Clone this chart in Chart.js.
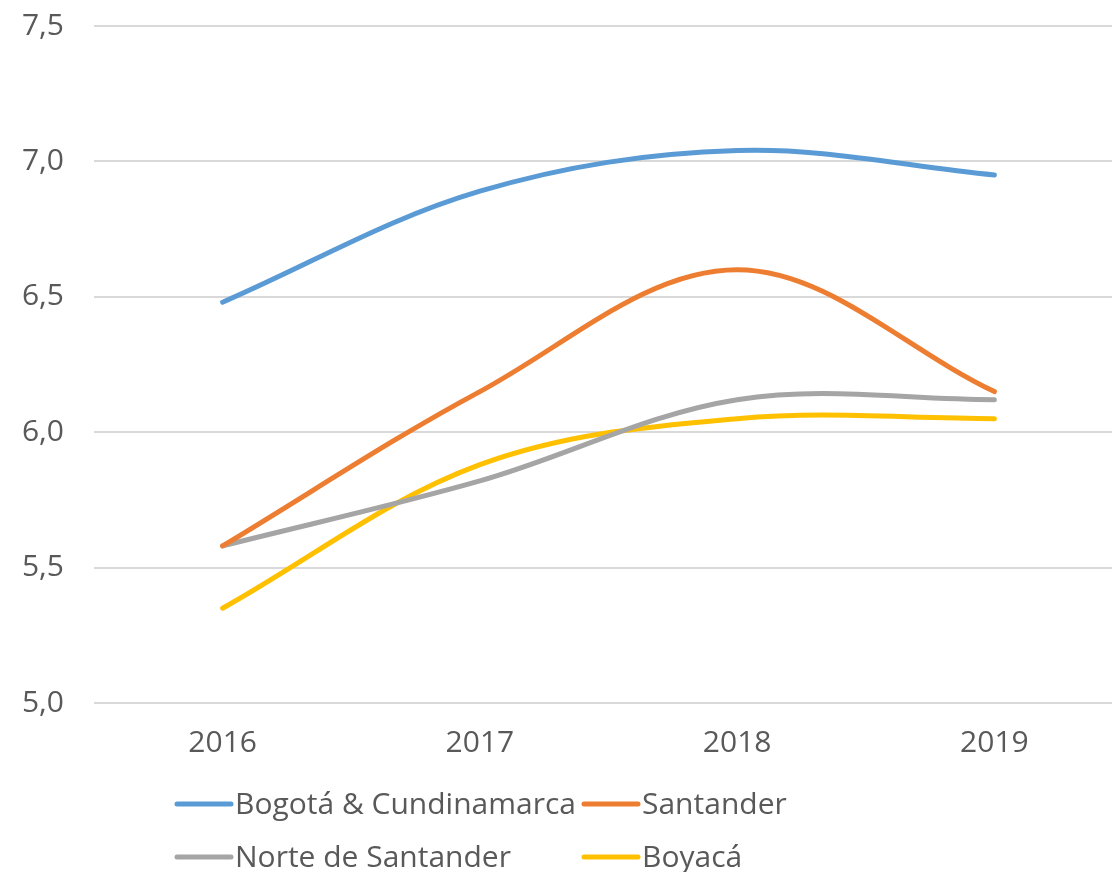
<!DOCTYPE html>
<html>
<head>
<meta charset="utf-8">
<script src="https://cdn.jsdelivr.net/npm/chart.js@4.4.1/dist/chart.umd.min.js"></script>
<style>
  html, body { margin: 0; padding: 0; background: #ffffff; overflow: hidden; }
  #wrap { position: relative; width: 1123px; height: 872px; }
</style>
</head>
<body>
<div id="wrap"><canvas id="chart" width="1123" height="872"></canvas></div>
<script>
// Years on the horizontal axis
const years = ['2016', '2017', '2018', '2019'];

// Series values per region
const bogotaCundinamarca = [6.48, 6.89, 7.04, 6.95];
const santander          = [5.58, 6.15, 6.60, 6.15];
const norteDeSantander   = [5.58, 5.82, 6.12, 6.12];
const boyaca             = [5.35, 5.88, 6.05, 6.05];

// Series names
const seriesNames = ['Bogotá & Cundinamarca', 'Santander', 'Norte de Santander', 'Boyacá'];

// Value axis range and step
const yMin = 5.0;
const yMax = 7.5;
const yStep = 0.5;

const colors = ['#5B9BD5', '#ED7D31', '#A5A5A5', '#FFC000'];
const textColor = '#595959';
const fontFamily = '"Open Sans", "DejaVu Sans", sans-serif';
const fontSize = 30;
const lineWidth = 5;

function lineDataset(label, data, color) {
  return {
    label: label,
    data: data,
    borderColor: color,
    backgroundColor: color,
    borderWidth: lineWidth,
    borderCapStyle: 'round',
    borderJoinStyle: 'round',
    pointRadius: 0,
    pointHoverRadius: 0,
    tension: 0.35,
    fill: false
  };
}

// Two-column legend drawn under the plot
const gridLegend = {
  id: 'gridLegend',
  afterDraw(chart, args, opts) {
    const ctx = chart.ctx;
    ctx.save();
    ctx.font = fontSize + 'px ' + fontFamily;
    ctx.textBaseline = 'middle';
    ctx.textAlign = 'left';
    chart.data.datasets.forEach((ds, i) => {
      const col = i % opts.columns;
      const row = Math.floor(i / opts.columns);
      const x = opts.left + col * opts.columnWidth;
      const y = opts.top + row * opts.rowHeight;
      ctx.strokeStyle = ds.borderColor;
      ctx.lineWidth = lineWidth;
      ctx.lineCap = 'round';
      ctx.beginPath();
      ctx.moveTo(x, y);
      ctx.lineTo(x + opts.lineLength, y);
      ctx.stroke();
      ctx.fillStyle = textColor;
      ctx.fillText(ds.label, x + opts.lineLength + opts.gap, y + 1);
    });
    ctx.restore();
  }
};

new Chart(document.getElementById('chart'), {
  type: 'line',
  data: {
    labels: years,
    datasets: [
      lineDataset(seriesNames[0], bogotaCundinamarca, colors[0]),
      lineDataset(seriesNames[1], santander, colors[1]),
      lineDataset(seriesNames[2], norteDeSantander, colors[2]),
      lineDataset(seriesNames[3], boyaca, colors[3])
    ]
  },
  options: {
    responsive: false,
    animation: false,
    devicePixelRatio: 1,
    layout: { padding: { top: 26, right: 0, bottom: 109, left: 0 } },
    plugins: {
      legend: { display: false },
      tooltip: { enabled: false },
      gridLegend: {
        columns: 2,
        left: 177,
        top: 804,
        columnWidth: 407,
        rowHeight: 53,
        lineLength: 54,
        gap: 4
      }
    },
    scales: {
      x: {
        offset: true,
        grid: { display: false, drawTicks: false },
        border: { display: false },
        ticks: {
          color: textColor,
          font: { family: fontFamily, size: fontSize },
          padding: 22,
          maxRotation: 0
        },
        afterFit(scale) { scale.height = 60; }
      },
      y: {
        min: yMin,
        max: yMax,
        grid: {
          color: '#d9d9d9',
          lineWidth: 2,
          drawTicks: true,
          tickLength: 30,
          tickColor: 'rgba(0,0,0,0)'
        },
        border: { display: false },
        ticks: {
          stepSize: yStep,
          color: textColor,
          font: { family: fontFamily, size: fontSize },
          padding: 0,
          callback: (v) => v.toFixed(1).replace('.', ',')
        },
        afterFit(scale) { scale.width = 94; }
      }
    }
  },
  plugins: [gridLegend]
});
</script>
</body>
</html>
